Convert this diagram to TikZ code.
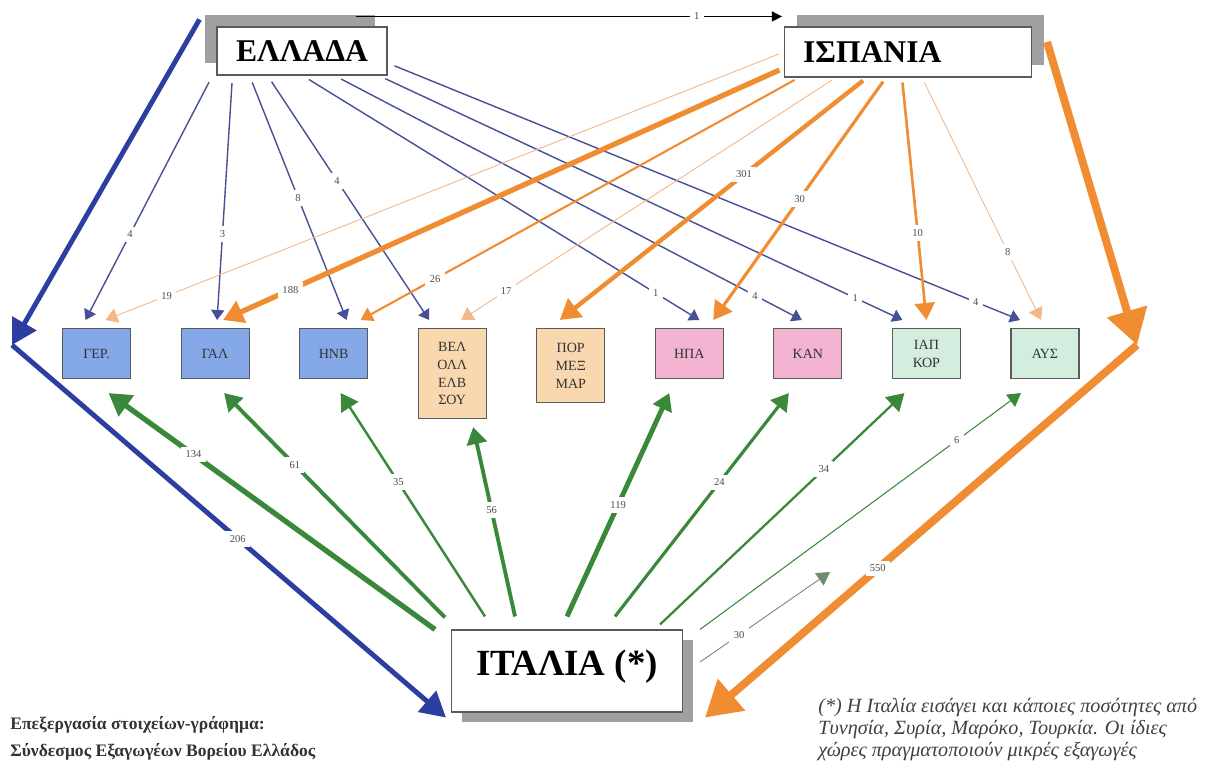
\documentclass[tikz,border=0pt]{standalone}
\usepackage{fontspec}
\setmainfont{Liberation Serif}
\usetikzlibrary{positioning,arrows.meta,shadows}
\definecolor{cGr}{RGB}{44,62,160}
\definecolor{cGrL}{RGB}{70,80,150}
\definecolor{cSp}{RGB}{240,140,50}
\definecolor{cSpL}{RGB}{243,182,135}
\definecolor{cIt}{RGB}{58,136,58}
\definecolor{cItL}{RGB}{110,140,110}
\definecolor{cShd}{RGB}{160,160,160}
\definecolor{cEU}{RGB}{133,168,232}
\definecolor{cMid}{RGB}{249,216,176}
\definecolor{cAm}{RGB}{242,180,208}
\definecolor{cAs}{RGB}{211,238,222}
\definecolor{cEdge}{RGB}{90,90,90}
\tikzset{
  country/.style={
    rectangle, draw=cEdge, line width=0.6pt, fill=white,
    font=\fontsize{18}{18}\selectfont\bfseries, inner sep=0pt,
  },
  market/.style={
    rectangle, draw=cEdge, line width=0.6pt, align=center,
    font=\fontsize{8}{10.2}\selectfont, text=black!80,
    minimum width=13.6mm, minimum height=10mm, inner sep=1pt,
  },
  lbl/.style={font=\fontsize{6}{6}\selectfont, fill=white, inner sep=2.5pt, text=black!70},
  fromGR/.style={draw=cGrL, line width=0.8pt, shorten <=1.5mm, -{Triangle[length=2mm,width=2.6mm]}},
  fromSP/.style={draw=cSp, shorten <=1mm, -{Triangle[length=2.4mm,width=3mm]}},
  fromIT/.style={draw=cIt, -{Triangle[length=3.4mm,width=4mm]}},
  bigGR/.style={draw=cGr, line width=2.8pt, -{Triangle[length=5mm,width=5.4mm]}},
  bigSP/.style={draw=cSp, line width=4.5pt, -{Triangle[length=7mm,width=8mm]}},
}
\begin{document}
\begin{tikzpicture}[x=0.2mm, y=-0.2mm]
\useasboundingbox (0,0) rectangle (1214,766);

% ===== the three countries =====
\node[country, minimum width=34mm, minimum height=9.6mm,
  drop shadow={shadow xshift=-2.4mm, shadow yshift=2.4mm, fill=cShd, opacity=1}] (ell) at (302,51) {ΕΛΛΑΔΑ};
\node[country, minimum width=49.4mm, minimum height=10mm, text width=42mm, align=left, inner xsep=3.7mm,
  drop shadow={shadow xshift=2.4mm, shadow yshift=2.4mm, fill=cShd, opacity=1}] (isp) at (908,52) {ΙΣΠΑΝΙΑ};
\node[country, minimum width=46.2mm, minimum height=16.4mm, font=\fontsize{21}{21}\selectfont\bfseries, text depth=10pt,
  drop shadow={shadow xshift=2mm, shadow yshift=-2mm, fill=cShd, opacity=1}] (ita) at (567,671) {ΙΤΑΛΙΑ (*)};

% ===== markets =====
\node[market, fill=cEU, anchor=north west] (ger) at (62,328) {ΓΕΡ.};
\node[market, fill=cEU, right=9.9mm of ger.north east, anchor=north west] (gal) {ΓΑΛ};
\node[market, fill=cEU, right=9.9mm of gal.north east, anchor=north west] (hnb) {ΗΝΒ};
\node[market, fill=cMid, minimum height=18mm, right=9.9mm of hnb.north east, anchor=north west] (bel) {ΒΕΛ\\ΟΛΛ\\ΕΛΒ\\ΣΟΥ};
\node[market, fill=cMid, minimum height=14.8mm, right=9.9mm of bel.north east, anchor=north west] (por) {ΠΟΡ\\ΜΕΞ\\ΜΑΡ};
\node[market, fill=cAm, right=9.9mm of por.north east, anchor=north west] (hpa) {ΗΠΑ};
\node[market, fill=cAm, right=9.9mm of hpa.north east, anchor=north west] (kan) {ΚΑΝ};
\node[market, fill=cAs, right=9.9mm of kan.north east, anchor=north west] (iap) {ΙΑΠ\\ΚΟΡ};
\node[market, fill=cAs, right=9.9mm of iap.north east, anchor=north west] (ays) {ΑΥΣ};

\coordinate (gcorn) at (12,345);
\coordinate (scorn) at (1137,345);
\coordinate (it30) at (830,572);

% ===== Greece -> Spain, Italy =====
\draw[line width=0.6pt, -{Triangle[length=2mm,width=2mm]}] ([xshift=-6.4mm,yshift=2mm]ell.north east)
  -- node[lbl, pos=0.8] {1} ([xshift=-0.4mm,yshift=2mm]isp.north west);
\draw[bigGR] ([xshift=-3.4mm,yshift=1.4mm]ell.north west) -- (gcorn);
\draw[bigGR] (gcorn) -- node[lbl, pos=0.52] {206} ([xshift=-1mm,yshift=-1mm]ita.south west);

% ===== Spain -> Italy =====
\draw[bigSP] ([xshift=3mm,yshift=2mm]isp.east) -- (scorn);
\draw[bigSP] (scorn) -- node[lbl, pos=0.6] {550} ([xshift=4.4mm,yshift=-1mm]ita.south east);

% ===== Greece -> markets =====
\draw[fromGR] ([xshift=-0.8mm]ell.south west) -- node[lbl, pos=0.65] {4} ([xshift=-2.2mm,yshift=1.6mm]ger.north);
\draw[fromGR] ([xshift=3.2mm]ell.south west) -- node[lbl, pos=0.65] {3} ([xshift=0.4mm,yshift=1.6mm]gal.north);
\draw[fromGR] ([xshift=6.6mm]ell.south west) -- node[lbl, pos=0.5] {8} ([xshift=2.6mm,yshift=1.6mm]hnb.north);
\draw[fromGR] ([xshift=10.2mm]ell.south west) -- node[lbl, pos=0.43] {4} ([xshift=-4.6mm,yshift=1.6mm]bel.north);
\draw[fromGR] ([xshift=17.2mm]ell.south west) -- node[lbl, pos=0.89] {1} ([xshift=2mm,yshift=1.6mm]hpa.north);
\draw[fromGR] ([xshift=23.6mm]ell.south west) -- node[lbl, pos=0.9] {4} ([xshift=-1.2mm,yshift=1.6mm]kan.north);
\draw[fromGR] ([xshift=-1.8mm]ell.south east) -- node[lbl, pos=0.91] {1} ([xshift=-4.8mm,yshift=1.6mm]iap.north);
\draw[fromGR] ([yshift=-2.4mm]ell.east) -- node[lbl, pos=0.93] {4} ([xshift=-5mm,yshift=1.6mm]ays.north);

% ===== Spain -> markets =====
\draw[fromSP, draw=cSpL, line width=0.5pt] (isp.west) -- node[lbl, pos=0.91] {19} ([xshift=1.8mm,yshift=1.6mm]ger.north);
\draw[fromSP, line width=3pt, -{Triangle[length=4mm,width=4.6mm]}] ([yshift=-3.2mm]isp.west)
  -- node[lbl, pos=0.88] {188} ([xshift=1.6mm,yshift=1.6mm]gal.north);
\draw[fromSP, line width=1.2pt] ([xshift=3mm]isp.south west) -- node[lbl, pos=0.83] {26} ([xshift=5.4mm,yshift=1.6mm]hnb.north);
\draw[fromSP, draw=cSpL, line width=0.5pt] ([xshift=10.4mm]isp.south west) -- node[lbl, pos=0.88] {17} ([xshift=1.8mm,yshift=1.6mm]bel.north);
\draw[fromSP, line width=2.5pt, -{Triangle[length=4mm,width=4.6mm]}] ([xshift=16.6mm]isp.south west)
  -- node[lbl, pos=0.4] {301} ([xshift=-2.2mm,yshift=1.6mm]por.north);
\draw[fromSP, line width=1.8pt, -{Triangle[length=3.6mm,width=4.2mm]}] ([xshift=20.4mm]isp.south west)
  -- node[lbl, pos=0.5] {30} ([xshift=4.8mm,yshift=1.6mm]hpa.north);
\draw[fromSP, line width=1.5pt, -{Triangle[length=3.4mm,width=4mm]}] ([xshift=23.6mm]isp.south west)
  -- node[lbl, pos=0.64] {10} ([yshift=1.6mm]iap.north);
\draw[fromSP, draw=cSpL, line width=0.5pt] ([xshift=27.6mm]isp.south west) -- node[lbl, pos=0.72] {8} ([xshift=-0.8mm,yshift=1.6mm]ays.north);

% ===== Italy -> markets =====
\draw[fromIT, line width=3pt, -{Triangle[length=4.4mm,width=5mm]}] ([xshift=-26.4mm]ita.north west -| ita.north)
  -- node[lbl, pos=0.74] {134} ([xshift=2.4mm,yshift=-2.8mm]ger.south);
\draw[fromIT, line width=2.2pt] ([xshift=-24.4mm,yshift=2.4mm]ita.north) -- node[lbl, pos=0.68] {61} ([xshift=1.8mm,yshift=-2.8mm]gal.south);
\draw[fromIT, line width=1.4pt] ([xshift=-16.4mm,yshift=2.6mm]ita.north) -- node[lbl, pos=0.6] {35} ([xshift=1.4mm,yshift=-2.8mm]hnb.south);
\draw[fromIT, line width=2.2pt] ([xshift=-10.4mm,yshift=2.6mm]ita.north) -- node[lbl, pos=0.56] {56} ([xshift=4.2mm,yshift=-1.6mm]bel.south);
\draw[fromIT, line width=2.8pt] ([yshift=2.6mm]ita.north) -- node[lbl, pos=0.5] {119} ([xshift=-4mm,yshift=-2.8mm]hpa.south);
\draw[fromIT, line width=1.8pt] ([xshift=9.6mm,yshift=2.6mm]ita.north) -- node[lbl, pos=0.6] {24} ([xshift=-3.8mm,yshift=-2.8mm]kan.south);
\draw[fromIT, line width=1.3pt] ([xshift=18.6mm,yshift=1mm]ita.north) -- node[lbl, pos=0.67] {34} ([xshift=-4.4mm,yshift=-2.8mm]iap.south);
\draw[fromIT, line width=0.6pt, -{Triangle[length=2.6mm,width=3mm]}] ([xshift=26.6mm]ita.north)
  -- node[lbl, pos=0.8] {6} ([xshift=-4.8mm,yshift=-2.8mm]ays.south);
\draw[fromIT, draw=cItL, line width=0.5pt, -{Triangle[length=2.6mm,width=3mm]}] ([xshift=3.4mm,yshift=1.8mm]ita.east)
  -- node[lbl, pos=0.3] {30} (it30);

% ===== notes =====
\node[anchor=north west, align=left, inner sep=0pt, text=black!80,
  font=\fontsize{10}{15.3}\selectfont\bfseries] (src) at (10,716)
  {Επεξεργασία στοιχείων-γράφημα:\\Σύνδεσμος Εξαγωγέων Βορείου Ελλάδος};
\node[anchor=north west, align=left, inner sep=0pt, text=black!75,
  font=\fontsize{11.5}{12.5}\selectfont\itshape] (note) at (818,698)
  {(*) Η Ιταλία εισάγει και κάποιες ποσότητες από\\Τυνησία, Συρία, Μαρόκο, Τουρκία. Οι ίδιες\\χώρες πραγματοποιούν μικρές εξαγωγές};

\end{tikzpicture}
\end{document}
